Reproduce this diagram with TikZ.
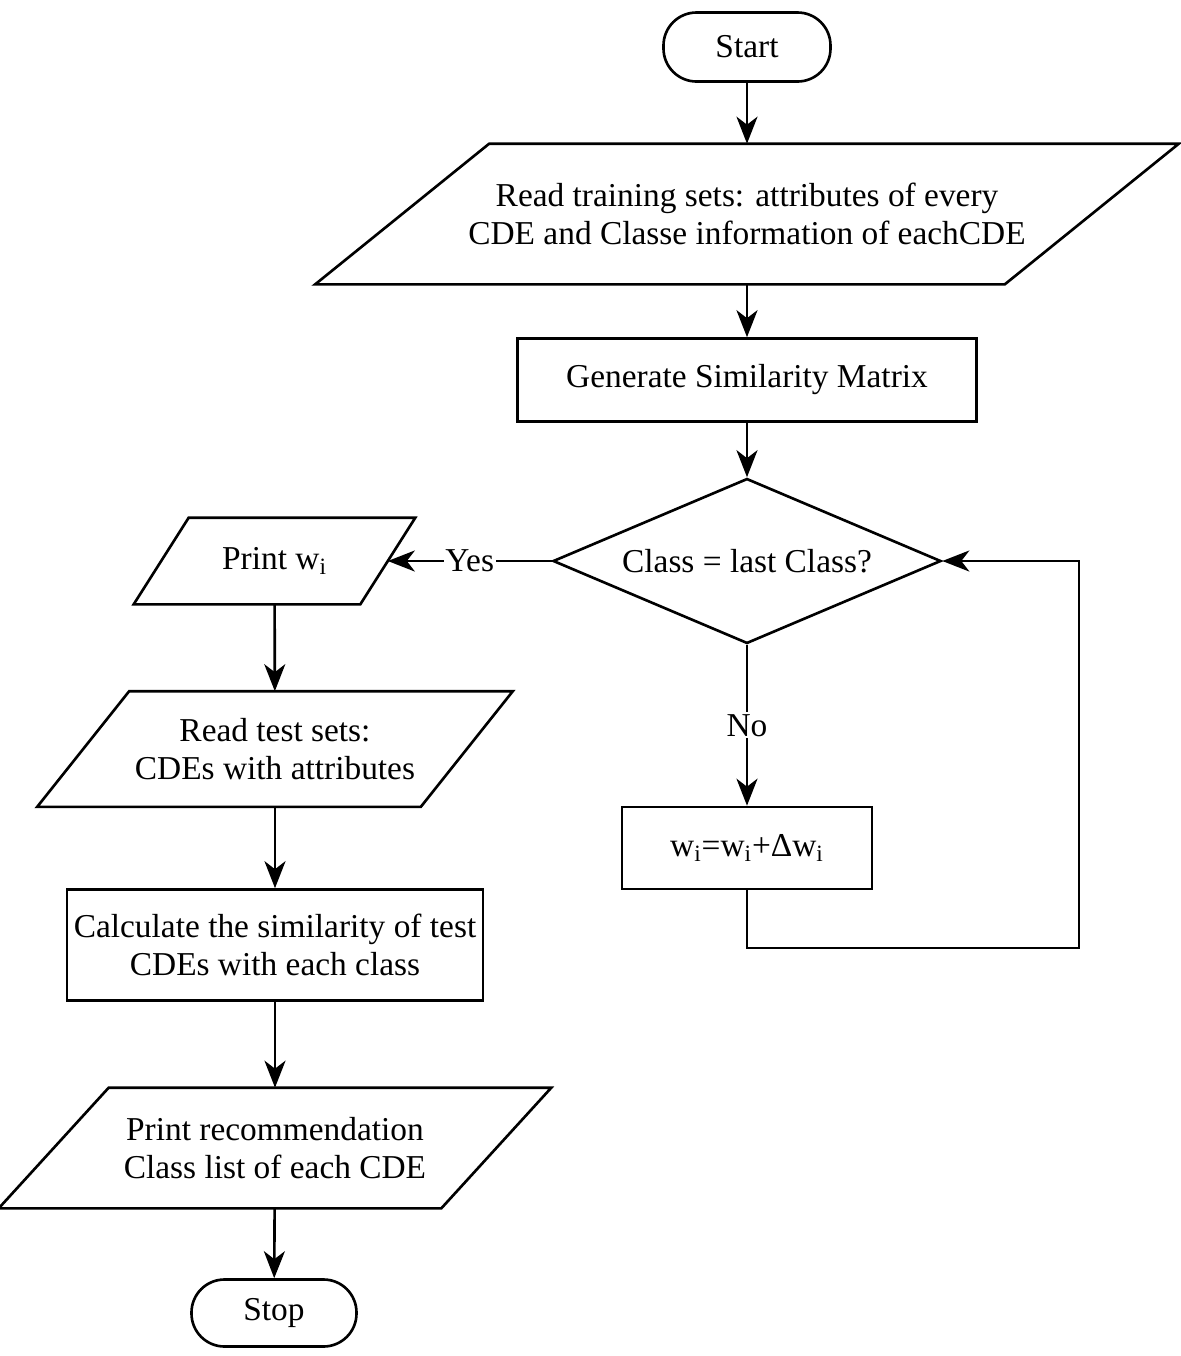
\documentclass[tikz,border=0pt]{standalone}
\usepackage{fontspec}
\setmainfont{Liberation Serif}
\usetikzlibrary{shapes.geometric,arrows.meta}

% slanted frame round an io node: node name, horizontal offset
\newcommand{\ioframe}[2]{\draw ([xshift=#2/2]#1.north west) -- ([xshift=#2/2]#1.north east) -- ([xshift=-#2/2]#1.south east) -- ([xshift=-#2/2]#1.south west) -- cycle;}

\begin{document}
\begin{tikzpicture}[line width=1.5pt,
  every node/.style={font=\fontsize{19}{22}\selectfont},
  term/.style={rectangle,draw,rounded corners=0.66cm,minimum width=3.34cm,minimum height=1.38cm},
  io/.style={rectangle,align=center},
  proc/.style={rectangle,draw,align=center},
  decision/.style={diamond,draw,aspect=2.35,minimum width=7.76cm,minimum height=3.3cm,inner sep=0pt},
  arr/.style={-{Stealth[length=5.4mm,width=4.2mm,inset=1.6mm]}},
  lbl/.style={fill=white,inner sep=1pt}]
\useasboundingbox (0,0) rectangle (23.62,-27.12);
\node (start) at (14.94,-0.94) [term] {Start};
\node (readtrain) at (14.94,-4.28) [io,minimum width=13.74cm,minimum height=2.76cm] {Read training sets: attributes of every\\CDE and Classe information of eachCDE};
\node (simmat) at (14.94,-7.6) [proc,minimum width=9.18cm,minimum height=1.66cm] {Generate Similarity Matrix};
\node (cond) at (14.94,-11.22) [decision] {Class = last Class?};
\node (update) at (14.94,-16.96) [proc,minimum width=5cm,minimum height=1.64cm] {w\textsubscript{i}=w\textsubscript{i}+Δw\textsubscript{i}};
\coordinate (loop) at (21.58,-18.96);
\node (printw) at (5.49,-11.22) [io,minimum width=4.48cm,minimum height=1.68cm] {Print w\textsubscript{i}};
\node (readtest) at (5.5,-14.98) [io,minimum width=7.62cm,minimum height=2.26cm] {Read test sets:\\CDEs with attributes};
\node (calc) at (5.5,-18.9) [proc,minimum width=8.32cm,minimum height=2.22cm] {Calculate the similarity of test\\CDEs with each class};
\node (printrec) at (5.5,-22.96) [io,minimum width=8.8cm,minimum height=2.36cm] {Print recommendation\\Class list of each CDE};
\node (stop) at (5.48,-26.26) [term,minimum width=3.3cm,minimum height=1.34cm] {Stop};
\ioframe{readtrain}{3.48cm}
\ioframe{printw}{1.1cm}
\ioframe{readtest}{1.84cm}
\ioframe{printrec}{2.2cm}
\draw [arr] (start) -- (readtrain);
\draw [arr] (readtrain) -- (simmat);
\draw [arr] (simmat) -- (cond);
\draw [arr] (cond) -- node[lbl] {Yes} (printw);
\draw [arr] (cond) -- node[lbl] {No} (update);
\draw [arr] (update.south) |- (loop) |- (cond.east);
\draw [arr] (printw) -- (readtest);
\draw [arr] (readtest) -- (calc);
\draw [arr] (calc) -- (printrec);
\draw [arr] (printrec) -- (stop);
\end{tikzpicture}
\end{document}
